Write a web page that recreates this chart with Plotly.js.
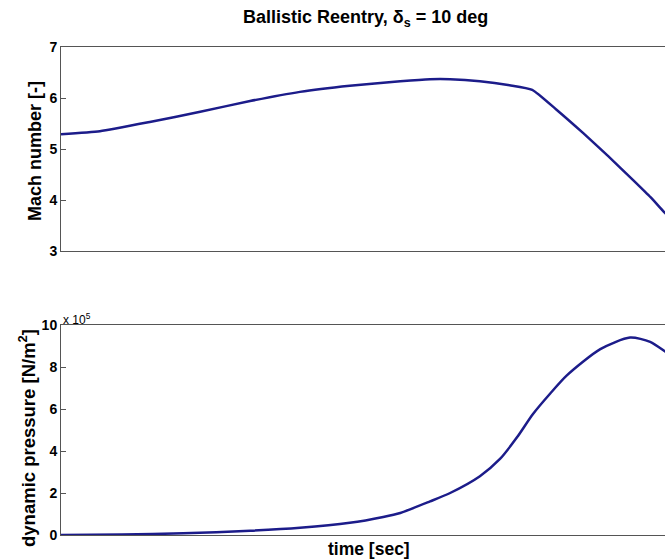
<!DOCTYPE html>
<html><head><meta charset="utf-8">
<script src="https://cdn.plot.ly/plotly-3.0.1.min.js"></script>
<style>html,body{margin:0;padding:0;overflow:hidden;background:#fff;width:665px;height:560px}</style>
</head><body><div id="chart"></div>
<script>
// time [sec] (relative scale, no tick labels shown)
const timeMach = [0, 6.4, 14.6, 22.9, 31.1, 39.3, 47.5, 55.8, 60.7, 64.0, 68.9, 73.8, 77.5, 81.5, 85.9, 90.0, 94.1, 97.0, 99.3, 100];
const mach     = [5.29, 5.35, 5.53, 5.73, 5.94, 6.12, 6.24, 6.33, 6.37, 6.37, 6.33, 6.25, 6.16, 5.77, 5.31, 4.86, 4.39, 4.05, 3.75, 3.67];
const timeQ    = [0, 10.0, 20.1, 31.1, 39.3, 47.5, 53.0, 55.8, 60.7, 64.0, 68.9, 72.2, 75.0, 77.6, 80.5, 83.2, 88.7, 93.6, 96.9, 99.3, 100];
const qdyn     = [0.0, 0.02, 0.08, 0.20, 0.34, 0.58, 0.86, 1.05, 1.60, 2.0, 2.80, 3.62, 4.65, 5.75, 6.75, 7.60, 8.85, 9.40, 9.20, 8.75, 8.60];
const machTicks = [3, 4, 5, 6, 7];
const qTicks = [0, 2, 4, 6, 8, 10];

const lineColor = '#1c1c8a';
const axisCommon = {
  showline: true, mirror: true, linecolor: '#555', linewidth: 1,
  showgrid: false, zeroline: false
};
const data = [
  {x: timeMach, y: mach, type: 'scatter', mode: 'lines', line: {color: lineColor, width: 2.5, shape: 'spline', smoothing: 0.5}, xaxis: 'x', yaxis: 'y'},
  {x: timeQ, y: qdyn, type: 'scatter', mode: 'lines', line: {color: lineColor, width: 2.5, shape: 'spline', smoothing: 0.7}, xaxis: 'x2', yaxis: 'y2'}
];
const FF = 'Liberation Sans, Arial, sans-serif';
const tickFont = {family: FF, size: 14, color: '#000', weight: 'bold'};
const layout = {
  width: 680, height: 560,
  margin: {l: 61, r: 11, t: 0, b: 0},
  paper_bgcolor: '#fff', plot_bgcolor: '#fff',
  showlegend: false,
  xaxis: Object.assign({}, axisCommon, {domain: [0, 1], range: [0, 100], showticklabels: false, ticks: '', anchor: 'y'}),
  yaxis: Object.assign({}, axisCommon, {domain: [1 - 251/560, 1 - 47/560], range: [3, 7], tickvals: machTicks, ticks: 'inside', ticklen: 5, tickcolor: '#555', tickfont: tickFont, anchor: 'x'}),
  xaxis2: Object.assign({}, axisCommon, {domain: [0, 1], range: [0, 100], showticklabels: false, ticks: '', anchor: 'y2'}),
  yaxis2: Object.assign({}, axisCommon, {domain: [1 - 535/560, 1 - 325/560], range: [0, 10], tickvals: qTicks, ticks: 'inside', ticklen: 5, tickcolor: '#555', tickfont: tickFont, anchor: 'x2'}),
  annotations: [
    {text: 'Ballistic Reentry, δ<sub>s</sub> = 10 deg', xref: 'paper', yref: 'paper', x: (365 - 61)/608, y: 1 - 19/560, xanchor: 'center', yanchor: 'middle', showarrow: false,
     font: {family: FF, size: 18, color: '#000', weight: 'bold'}},
    {text: 'Mach number [-]', xref: 'paper', yref: 'paper', x: -26/608, y: 1 - 151/560, xanchor: 'center', yanchor: 'middle', textangle: -90, showarrow: false,
     font: {family: FF, size: 18, color: '#000', weight: 'bold'}},
    {text: 'dynamic pressure [N/m<sup>2</sup>]', xref: 'paper', yref: 'paper', x: -34/608, y: 1 - 438/560, xanchor: 'center', yanchor: 'middle', textangle: -90, showarrow: false,
     font: {family: FF, size: 18.5, color: '#000', weight: 'bold'}},
    {text: 'x 10<sup>5</sup>', xref: 'paper', yref: 'paper', x: 0, y: 1 - 319/560, xanchor: 'left', yanchor: 'middle', showarrow: false,
     font: {family: FF, size: 12, color: '#000'}},
    {text: 'time [sec]', xref: 'paper', yref: 'paper', x: (369 - 61)/608, y: 1 - 549/560, xanchor: 'center', yanchor: 'middle', showarrow: false,
     font: {family: FF, size: 17.5, color: '#000', weight: 'bold'}}
  ]
};
Plotly.newPlot('chart', data, layout, {displayModeBar: false, staticPlot: true});
</script></body></html>
